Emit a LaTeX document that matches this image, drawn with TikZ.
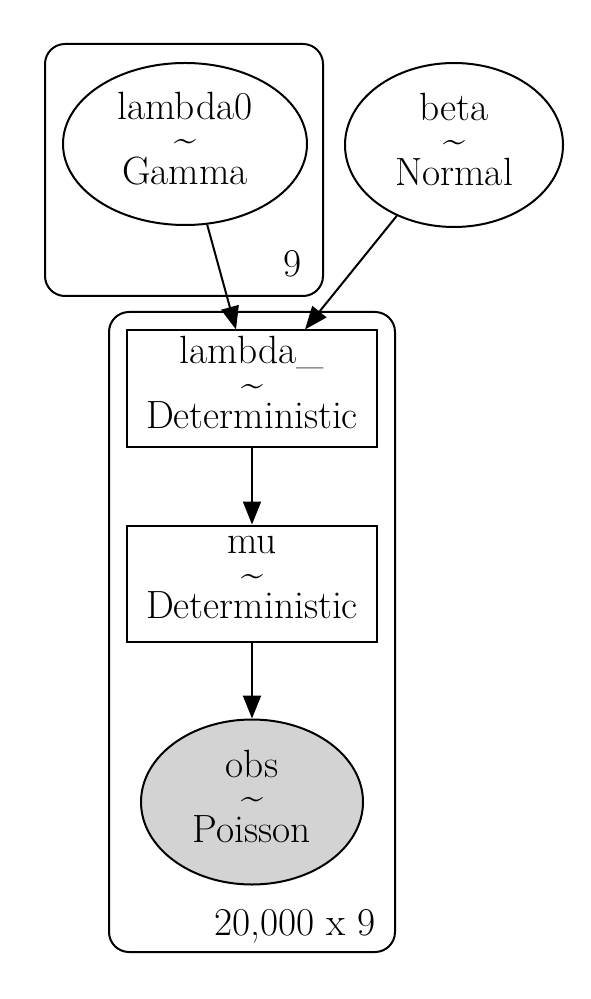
\documentclass[tikz,border=0pt]{standalone}
\usetikzlibrary{shapes.geometric,arrows.meta}
\definecolor{obsgrey}{HTML}{D3D3D3}
\begin{document}
\begin{tikzpicture}
  [x=0.5pt,y=-0.5pt,line width=1pt,
   every node/.style={font=\fontsize{19.7}{16.25}\selectfont,align=center,inner sep=0pt,text depth=5.8pt},
   rv/.style={ellipse,draw},
   det/.style={rectangle,draw,minimum width=125pt,minimum height=58pt},
   obsv/.style={rv,fill=obsgrey},
   plate/.style={draw,rounded corners=10pt},
   platelabel/.style={anchor=base east,text depth=0pt},
   edge/.style={-{Triangle[length=11.5pt,width=9pt]}}]
  \useasboundingbox (0,0) rectangle (590,999);

  % plates
  \draw [plate] (45,44) rectangle (323,296);
  \draw [plate] (109,312) rectangle (395,952);
  \node [platelabel] (nine) at (303,277) {9};
  \node [platelabel] (obsdim) at (377,935) {20,000 x 9};

  \node [rv,minimum width=122pt,minimum height=81pt] (lambda0) at (185,144) {lambda0\\\textasciitilde\\Gamma};
  \node [rv,minimum width=109pt,minimum height=82pt] (beta) at (454,145) {beta\\\textasciitilde\\Normal};
  \node [det] (lambdab) at (252,388.5) {lambda\_\\\textasciitilde\\Deterministic};
  \node [det] (mu) at (252,583.5) {mu\\\textasciitilde\\Deterministic};
  \node [obsv,minimum width=111pt,minimum height=82.5pt] (obs) at (252,802) {obs\\\textasciitilde\\Poisson};

  \coordinate (inA) at ([xshift=-8pt]lambdab.north);
  \coordinate (inB) at ([xshift=26.5pt]lambdab.north);

  \foreach \from/\to in {lambda0/inA,beta/inB,lambdab/mu,mu/obs}
    \draw [edge] (\from) -- (\to);
\end{tikzpicture}
\end{document}
